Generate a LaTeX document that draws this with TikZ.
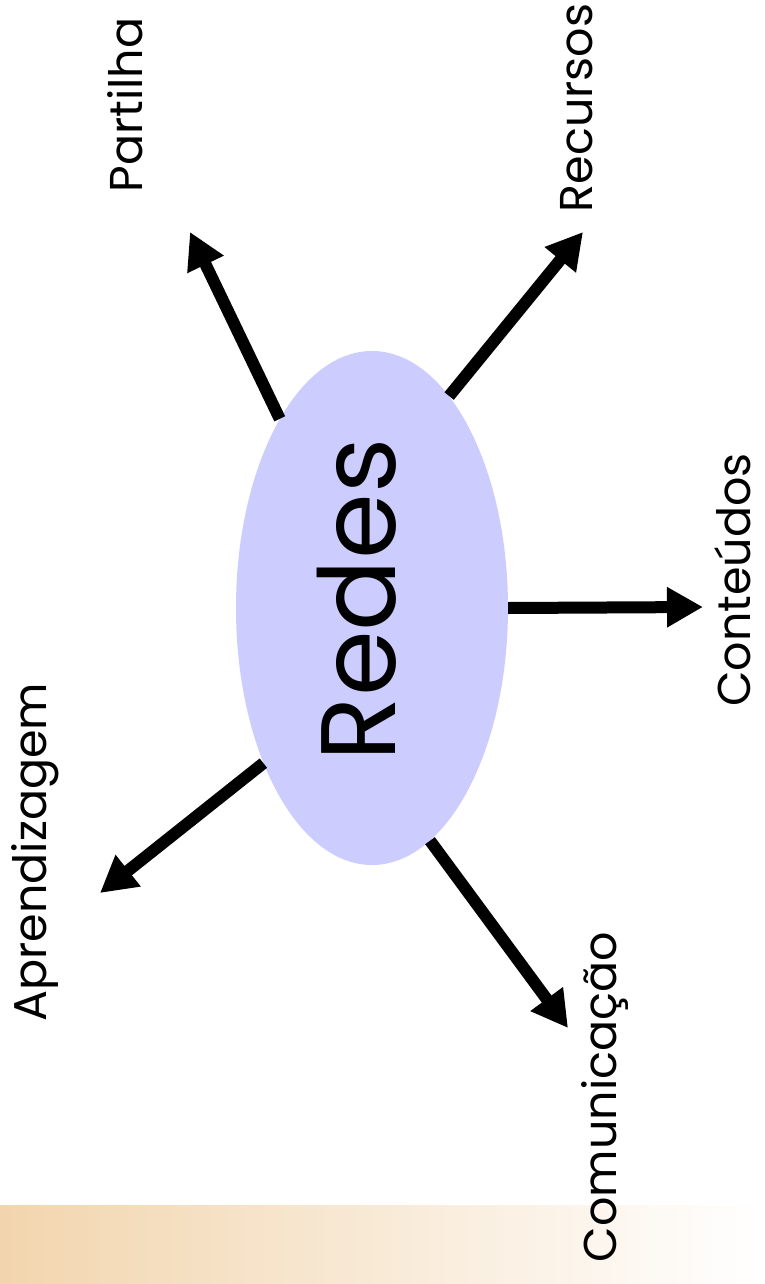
\documentclass[tikz,border=0pt]{standalone}
\usepackage{fontspec}
\setmainfont{Poppins}
\usetikzlibrary{arrows.meta,shapes.geometric}
\definecolor{ellfill}{HTML}{CCCCFF}
\definecolor{barcol}{HTML}{F2D5AE}
\tikzset{
  arr/.style={line width=12pt,-{Triangle[length=36pt,width=38pt]}},
  lbl/.style={rotate=90,font=\fontsize{46}{52}\selectfont,inner sep=0pt},
}
\begin{document}
\begin{tikzpicture}[x=1pt,y=-1pt]
\useasboundingbox (0,0) rectangle (764,1284);
\shade[left color=barcol,right color=white] (0,1205) rectangle (764,1284);
\node[ellipse,fill=ellfill,inner sep=0pt,minimum width=272pt,minimum height=514pt] (redes) at (372,608) {};
\node[rotate=90,font=\fontsize{106}{114}\selectfont,inner sep=0pt] (rtxt) at (357,600) {Redes};
\node[lbl] (partilha) at (125,105) {Partilha};
\node[lbl] (recursos) at (577,108) {Recursos};
\node[lbl,anchor=south] (conteudos) at (751,580) {Conteúdos};
\node[lbl] (aprend) at (35,852) {Aprendizagem};
\node[lbl] (comunic) at (605,1097) {Comunicação};
\coordinate (tP) at (190,232);
\coordinate (tR) at (583,232);
\coordinate (tC) at (703,607);
\coordinate (tA) at (100,893);
\coordinate (tM) at (568,1028);
\draw[arr] (redes.116.7) -- (tP);
\draw[arr] (redes.70.4) -- (tR);
\draw[arr] (redes.0) -- (tC);
\draw[arr] (redes.235.5) -- (tA);
\draw[arr] (redes.284.8) -- (tM);
\end{tikzpicture}
\end{document}
